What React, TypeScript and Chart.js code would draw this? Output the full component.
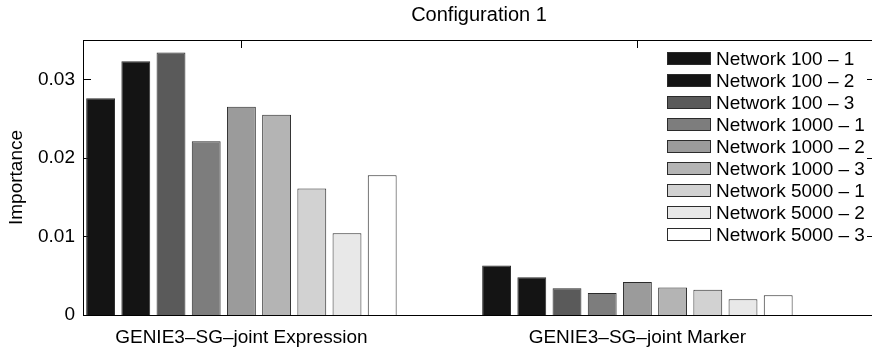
import React, { useEffect, useRef } from "react";
import { Chart, registerables } from "chart.js";

Chart.register(...registerables);

const FONT = '"Liberation Sans", Arial, Helvetica, sans-serif';

const groupLabels = ["GENIE3–SG–joint Expression", "GENIE3–SG–joint Marker"];
const groupPositions = [1, 2];

const networkNames = [
  "Network 100 – 1",
  "Network 100 – 2",
  "Network 100 – 3",
  "Network 1000 – 1",
  "Network 1000 – 2",
  "Network 1000 – 3",
  "Network 5000 – 1",
  "Network 5000 – 2",
  "Network 5000 – 3",
];

const expressionImportance = [0.0276, 0.0323, 0.0334, 0.0221, 0.0265, 0.0255, 0.0161, 0.0104, 0.0178];
const markerImportance = [0.0063, 0.0048, 0.0034, 0.0028, 0.0042, 0.0035, 0.0032, 0.002, 0.0025];

const grays = ["#141414", "#141414", "#5a5a5a", "#7d7d7d", "#9b9b9b", "#b4b4b4", "#d2d2d2", "#e8e8e8", "#ffffff"];

const yTicks = [0, 0.01, 0.02, 0.03];

// Axes box with inward ticks, drawn underneath the bars
const axesBox = {
  id: "axesBox",
  beforeDatasetsDraw(chart: any) {
    const { ctx, chartArea: a, scales } = chart;
    const x = scales.x;
    const y = scales.y;
    const len = 8;
    ctx.save();
    ctx.strokeStyle = "#000";
    ctx.lineWidth = 1;
    ctx.beginPath();
    for (const v of yTicks) {
      const py = Math.round(y.getPixelForValue(v)) + 0.5;
      ctx.moveTo(a.left, py);
      ctx.lineTo(a.left + len, py);
      ctx.moveTo(a.right, py);
      ctx.lineTo(a.right - len, py);
    }
    for (const v of groupPositions) {
      const px = Math.round(x.getPixelForValue(v)) + 0.5;
      ctx.moveTo(px, a.top);
      ctx.lineTo(px, a.top + len);
      ctx.moveTo(px, a.bottom);
      ctx.lineTo(px, a.bottom - len);
    }
    ctx.stroke();
    ctx.restore();
  },
  afterDatasetsDraw(chart: any) {
    const { ctx, chartArea: a } = chart;
    ctx.save();
    ctx.strokeStyle = "#000";
    ctx.lineWidth = 1;
    ctx.strokeRect(Math.round(a.left) + 0.5, Math.round(a.top) + 0.5, Math.round(a.right - a.left), Math.round(a.bottom - a.top));
    ctx.restore();
  },
};

// Legend placed inside the upper-right corner of the plot area
const innerLegend = {
  id: "innerLegend",
  afterDraw(chart: any) {
    const { ctx, chartArea: a } = chart;
    const swW = 44;
    const swH = 13;
    const pitch = 21.96;
    const x0 = a.right - 208;
    const y0 = a.top + 12;
    ctx.save();
    ctx.font = `19px ${FONT}`;
    ctx.textBaseline = "middle";
    ctx.textAlign = "left";
    chart.data.datasets.forEach((ds: any, i: number) => {
      const top = Math.round(y0 + i * pitch);
      ctx.fillStyle = ds.backgroundColor;
      ctx.fillRect(x0, top, swW, swH);
      ctx.strokeStyle = "#2b2b2b";
      ctx.lineWidth = 1;
      ctx.strokeRect(x0 + 0.5, top + 0.5, swW - 1, swH - 1);
      ctx.fillStyle = "#000";
      ctx.fillText(ds.label, x0 + swW + 5, top + swH / 2 + 1);
    });
    ctx.restore();
  },
};

export default function App() {
  const canvasRef = useRef<HTMLCanvasElement | null>(null);

  useEffect(() => {
    document.body.style.margin = "0";
    const canvas = canvasRef.current;
    if (!canvas) return;

    const datasets = networkNames.map((name, i) => ({
      label: name,
      data: [
        { x: groupPositions[0], y: expressionImportance[i] },
        { x: groupPositions[1], y: markerImportance[i] },
      ],
      backgroundColor: grays[i],
      borderColor: "#2b2b2b",
      borderWidth: 1,
      categoryPercentage: 0.8,
      barPercentage: 0.82,
    }));

    const chart = new Chart(canvas, {
      type: "bar",
      data: { datasets },
      options: {
        responsive: false,
        animation: false,
        layout: { padding: { right: 5, left: 0, top: 0, bottom: 0 } },
        plugins: {
          legend: { display: false },
          tooltip: { enabled: false },
          title: {
            display: true,
            text: "Configuration 1",
            fullSize: false,
            color: "#000",
            font: { family: FONT, size: 20, weight: "normal" },
            padding: { top: 3, bottom: 13 },
          },
        },
        scales: {
          x: {
            type: "linear",
            min: 0.6,
            max: 2.6,
            offset: false,
            grid: { display: false, drawTicks: false },
            border: { display: false },
            afterBuildTicks: (scale: any) => {
              scale.ticks = groupPositions.map((v) => ({ value: v }));
            },
            afterFit: (scale: any) => {
              scale.height = 35;
            },
            ticks: {
              color: "#000",
              font: { family: FONT, size: 19 },
              padding: 11,
              maxRotation: 0,
              autoSkip: false,
              callback: (v: any) => {
                const idx = groupPositions.indexOf(Number(v));
                return idx >= 0 ? groupLabels[idx] : "";
              },
            },
          },
          y: {
            min: 0,
            max: 0.035,
            grid: { display: false, drawTicks: false },
            border: { display: false },
            afterBuildTicks: (scale: any) => {
              scale.ticks = yTicks.map((v) => ({ value: v }));
            },
            afterFit: (scale: any) => {
              scale.width = 83;
            },
            ticks: {
              color: "#000",
              font: { family: FONT, size: 19 },
              padding: 8,
              callback: (v: any) => (Number(v) === 0 ? "0" : Number(v).toFixed(2)),
            },
            title: {
              display: true,
              text: "Importance",
              color: "#000",
              font: { family: FONT, size: 19 },
              padding: { top: 5, bottom: 0 },
            },
          },
        },
      },
      plugins: [axesBox, innerLegend],
    });

    return () => chart.destroy();
  }, []);

  return (
    <div style={{ width: 872, height: 350, overflow: "hidden", position: "relative", background: "#fff" }}>
      <canvas ref={canvasRef} width={880} height={350} style={{ display: "block" }} />
    </div>
  );
}
